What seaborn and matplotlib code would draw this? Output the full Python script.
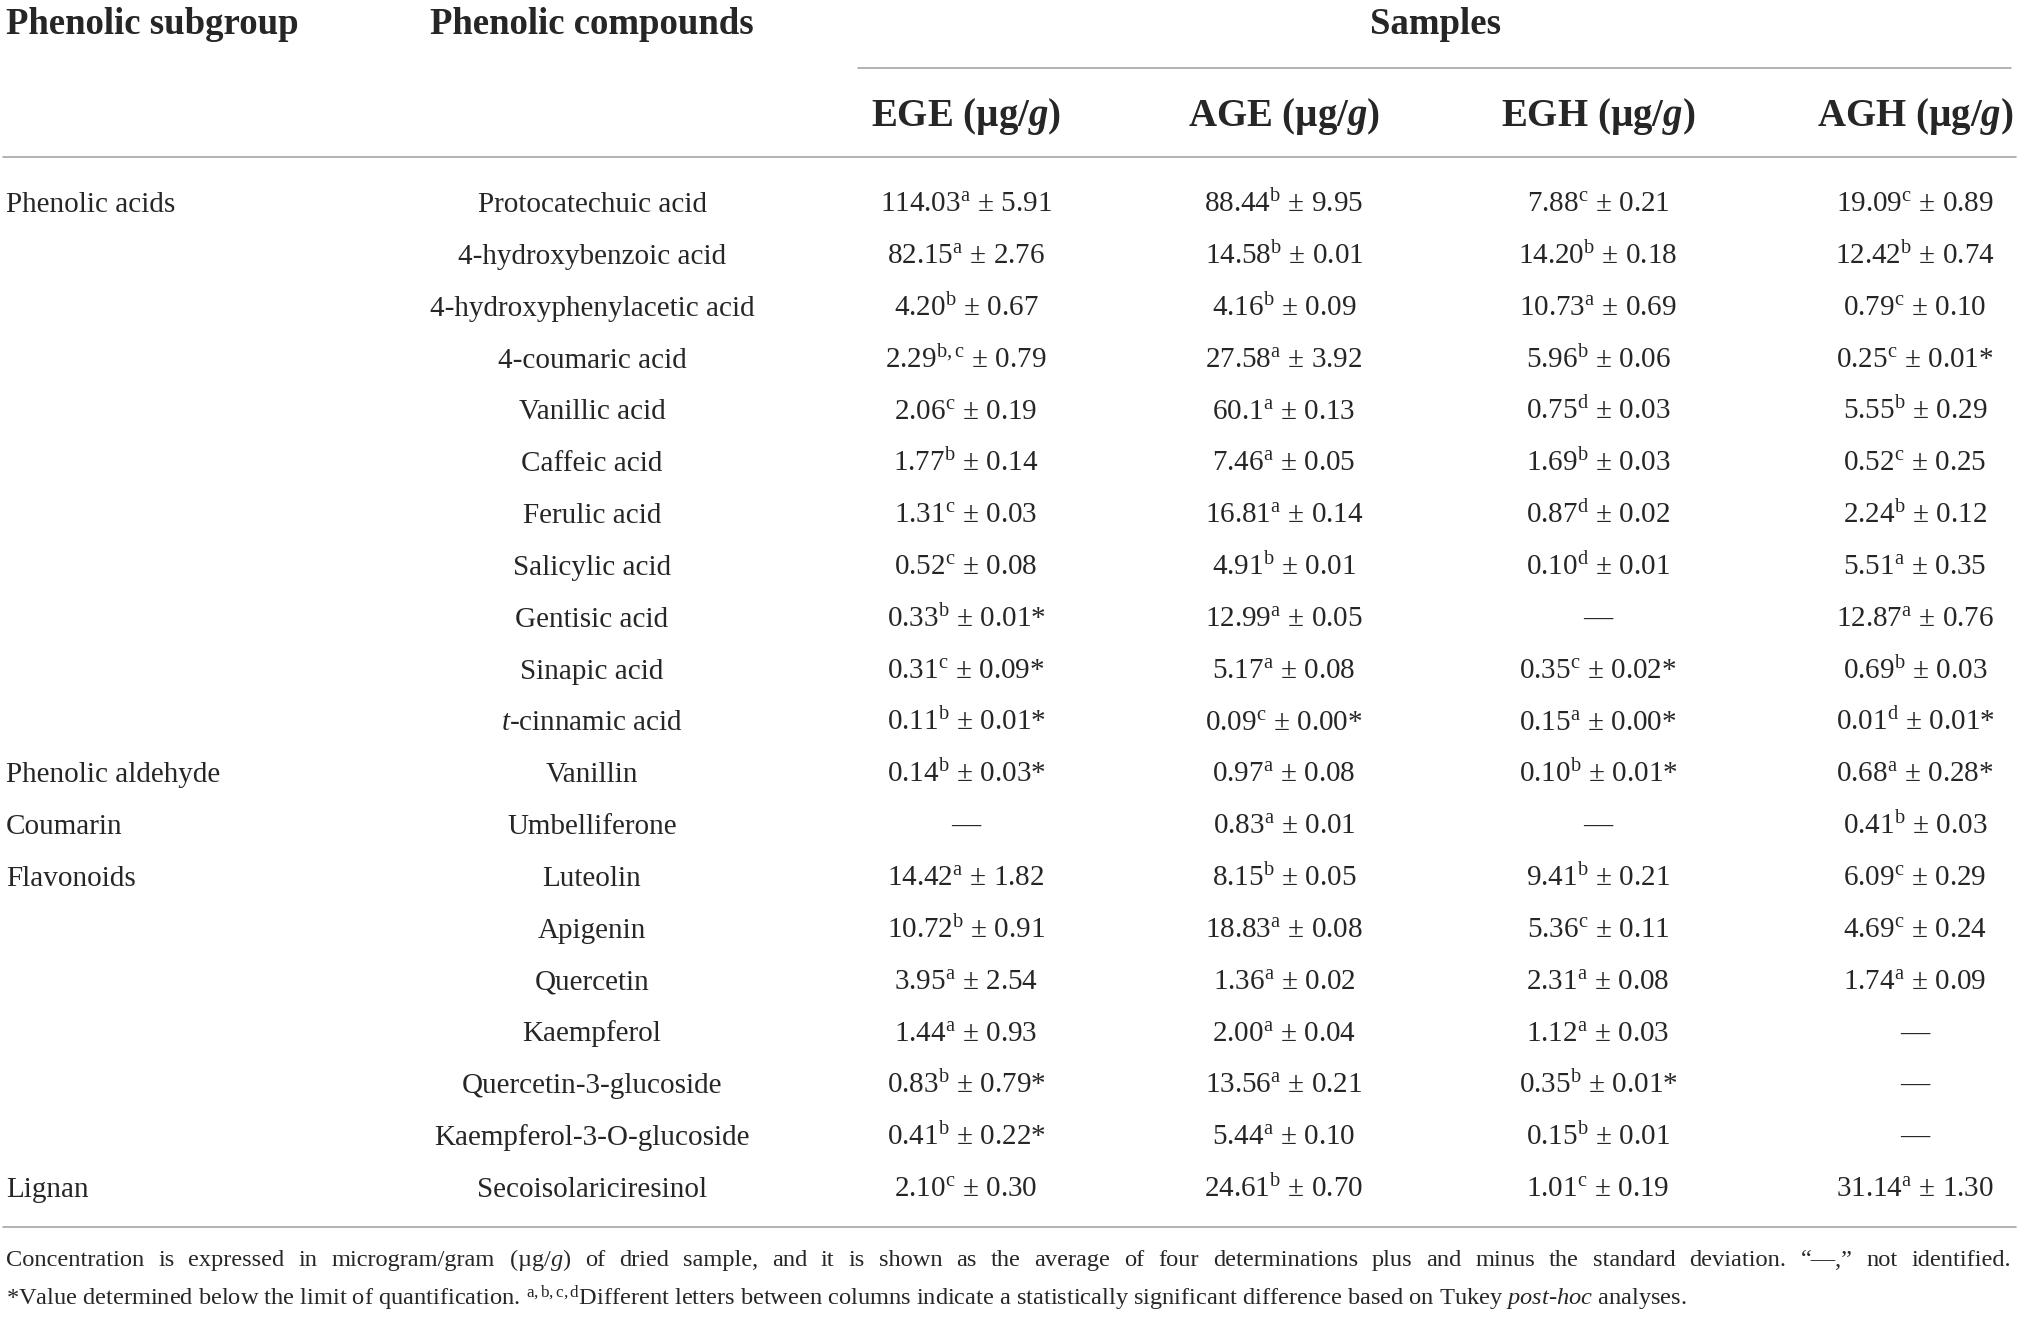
import numpy as np
import seaborn as sns
import matplotlib.pyplot as plt

# table content
subgroups = ["Phenolic acids", "", "", "", "", "", "", "", "", "", "",
             "Phenolic aldehyde", "Coumarin", "Flavonoids", "", "", "", "", "",
             "Lignan"]
compounds = ["Protocatechuic acid", "4-hydroxybenzoic acid", "4-hydroxyphenylacetic acid",
             "4-coumaric acid", "Vanillic acid", "Caffeic acid", "Ferulic acid",
             "Salicylic acid", "Gentisic acid", "Sinapic acid", r"$\mathit{t}$-cinnamic acid",
             "Vanillin", "Umbelliferone", "Luteolin", "Apigenin", "Quercetin", "Kaempferol",
             "Quercetin-3-glucoside", "Kaempferol-3-O-glucoside", "Secoisolariciresinol"]
samples = ["EGE", "AGE", "EGH", "AGH"]

ege_mean = ["114.03", "82.15", "4.20", "2.29", "2.06", "1.77", "1.31", "0.52", "0.33", "0.31",
            "0.11", "0.14", None, "14.42", "10.72", "3.95", "1.44", "0.83", "0.41", "2.10"]
ege_let = ["a", "a", "b", "b,c", "c", "b", "c", "c", "b", "c",
           "b", "b", None, "a", "b", "a", "a", "b", "b", "c"]
ege_sd = ["5.91", "2.76", "0.67", "0.79", "0.19", "0.14", "0.03", "0.08", "0.01", "0.09",
          "0.01", "0.03", None, "1.82", "0.91", "2.54", "0.93", "0.79", "0.22", "0.30"]
ege_loq = [0, 0, 0, 0, 0, 0, 0, 0, 1, 1, 1, 1, 0, 0, 0, 0, 0, 1, 1, 0]

age_mean = ["88.44", "14.58", "4.16", "27.58", "60.1", "7.46", "16.81", "4.91", "12.99", "5.17",
            "0.09", "0.97", "0.83", "8.15", "18.83", "1.36", "2.00", "13.56", "5.44", "24.61"]
age_let = ["b", "b", "b", "a", "a", "a", "a", "b", "a", "a",
           "c", "a", "a", "b", "a", "a", "a", "a", "a", "b"]
age_sd = ["9.95", "0.01", "0.09", "3.92", "0.13", "0.05", "0.14", "0.01", "0.05", "0.08",
          "0.00", "0.08", "0.01", "0.05", "0.08", "0.02", "0.04", "0.21", "0.10", "0.70"]
age_loq = [0, 0, 0, 0, 0, 0, 0, 0, 0, 0, 1, 0, 0, 0, 0, 0, 0, 0, 0, 0]

egh_mean = ["7.88", "14.20", "10.73", "5.96", "0.75", "1.69", "0.87", "0.10", None, "0.35",
            "0.15", "0.10", None, "9.41", "5.36", "2.31", "1.12", "0.35", "0.15", "1.01"]
egh_let = ["c", "b", "a", "b", "d", "b", "d", "d", None, "c",
           "a", "b", None, "b", "c", "a", "a", "b", "b", "c"]
egh_sd = ["0.21", "0.18", "0.69", "0.06", "0.03", "0.03", "0.02", "0.01", None, "0.02",
          "0.00", "0.01", None, "0.21", "0.11", "0.08", "0.03", "0.01", "0.01", "0.19"]
egh_loq = [0, 0, 0, 0, 0, 0, 0, 0, 0, 1, 1, 1, 0, 0, 0, 0, 0, 1, 0, 0]

agh_mean = ["19.09", "12.42", "0.79", "0.25", "5.55", "0.52", "2.24", "5.51", "12.87", "0.69",
            "0.01", "0.68", "0.41", "6.09", "4.69", "1.74", None, None, None, "31.14"]
agh_let = ["c", "b", "c", "c", "b", "c", "b", "a", "a", "b",
           "d", "a", "b", "c", "c", "a", None, None, None, "a"]
agh_sd = ["0.89", "0.74", "0.10", "0.01", "0.29", "0.25", "0.12", "0.35", "0.76", "0.03",
          "0.01", "0.28", "0.03", "0.29", "0.24", "0.09", None, None, None, "1.30"]
agh_loq = [0, 0, 0, 1, 0, 0, 0, 0, 0, 0, 1, 1, 0, 0, 0, 0, 0, 0, 0, 0]

columns = [(ege_mean, ege_let, ege_sd, ege_loq), (age_mean, age_let, age_sd, age_loq),
           (egh_mean, egh_let, egh_sd, egh_loq), (agh_mean, agh_let, agh_sd, agh_loq)]

note1 = ("Concentration is expressed in microgram/gram (\u00b5g/$\\mathit{g}$) of dried sample, "
         "and it is shown as the average of four determinations plus and minus the standard "
         "deviation. \u201c\u2014,\u201d not identified.")
note2 = ("*Value determined below the limit of quantification. $^{\\mathrm{a,b,c,d}}$Different "
         "letters between columns indicate a statistically significant difference based on "
         "Tukey $\\mathit{post}$-$\\mathit{hoc}$ analyses.")


def cell(mean, letter, sd, star):
    if mean is None:
        return "\u2014"
    s = mean + "$^{\\mathrm{" + letter + "}}$ \u00b1 " + sd
    if star:
        s += "*"
    return s


sns.set_theme(style="white")
plt.rcParams['font.family'] = ['Liberation Serif', 'DejaVu Serif']
plt.rcParams['mathtext.fontset'] = 'custom'
plt.rcParams['mathtext.rm'] = 'Liberation Serif'
plt.rcParams['mathtext.it'] = 'Liberation Serif:italic'
plt.rcParams['mathtext.bf'] = 'Liberation Serif:bold'
plt.rcParams['mathtext.bfit'] = 'Liberation Serif:italic:bold'

W, H = 2019, 1319
fig = plt.figure(figsize=(W / 100, H / 100), dpi=100)
ax = fig.add_axes([0, 0, 1, 1])
ax.set_xlim(0, W)
ax.set_ylim(H, 0)
ax.axis("off")

x_sub = 6
x_comp = 592
x_samp = [966, 1284, 1598, 1915]
row_y = 202 + 51.84 * np.arange(len(compounds))
body = 21
head = 26.5
note_fs = 17.6
rule = dict(color="#a6a6a6", lw=1.2)

# header
ax.text(x_sub, 34, "Phenolic subgroup", fontsize=head, fontweight="bold", va="baseline")
ax.text(x_comp, 34, "Phenolic compounds", fontsize=head, fontweight="bold", va="baseline", ha="center")
ax.text(1436, 34, "Samples", fontsize=head, fontweight="bold", va="baseline", ha="center")
ax.plot([858, 2011], [68, 68], **rule)
for xs, name in zip(x_samp, samples):
    ax.text(xs, 126, name + " (\u00b5g/$\\mathbfit{g}$)", fontsize=28, fontweight="bold",
            va="baseline", ha="center")
ax.plot([3, 2016], [157, 157], **rule)

# body
for i, y in enumerate(row_y):
    ax.text(x_sub, y + 10, subgroups[i], fontsize=body, va="baseline")
    ax.text(x_comp, y + 10, compounds[i], fontsize=body, va="baseline", ha="center")
    for xs, (m, l, s, q) in zip(x_samp, columns):
        ax.text(xs, y + 10, cell(m[i], l[i], s[i], q[i]), fontsize=body, va="baseline", ha="center")

ax.plot([3, 2016], [1227, 1227], **rule)

# first footnote line is justified across the full width
words = note1.split(" ")
renderer = fig.canvas.get_renderer()
arts = [ax.text(0, 1266, w, fontsize=note_fs, va="baseline") for w in words]
widths = [a.get_window_extent(renderer).width for a in arts]
gap = (2011 - x_sub - sum(widths)) / (len(words) - 1)
xpos = x_sub
for a, wd in zip(arts, widths):
    a.set_x(xpos)
    xpos += wd + gap
ax.text(x_sub, 1305, note2, fontsize=note_fs, va="baseline")

fig.savefig("out.png", dpi=100, facecolor="white")
